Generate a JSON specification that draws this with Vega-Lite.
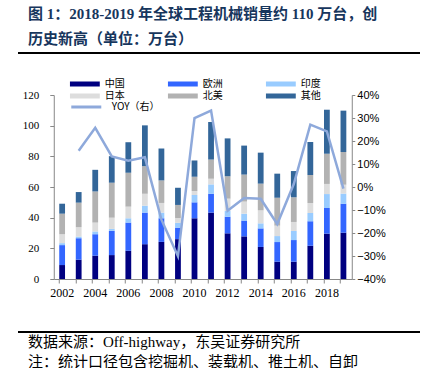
{
  "$schema": "https://vega.github.io/schema/vega-lite/v6.json",
  "padding": {"left": 17, "top": 7, "right": 5, "bottom": 0},
  "background": "white",
  "config": {"view": {"stroke": null}},
  "datasets": {
    "sales": [
      {"year": 2002, "中国": 9.1, "欧洲": 13.0, "印度": 1.3, "日本": 5.8, "北美": 13.4, "其他": 6.5},
      {"year": 2003, "中国": 12.6, "欧洲": 14.0, "印度": 1.1, "日本": 6.1, "北美": 16.0, "其他": 6.9},
      {"year": 2004, "中国": 15.2, "欧洲": 14.0, "印度": 1.8, "日本": 5.8, "北美": 20.3, "其他": 14.1},
      {"year": 2005, "中国": 15.6, "欧洲": 15.8, "印度": 1.3, "日本": 7.3, "北美": 22.8, "其他": 17.3},
      {"year": 2006, "中国": 18.4, "欧洲": 18.4, "印度": 2.8, "日本": 7.6, "北美": 22.1, "其他": 19.9},
      {"year": 2007, "中国": 22.7, "欧洲": 20.6, "印度": 4.5, "日本": 7.8, "北美": 18.0, "其他": 26.6},
      {"year": 2008, "中国": 24.2, "欧洲": 15.4, "印度": 3.7, "日本": 6.3, "北美": 14.7, "其他": 20.8},
      {"year": 2009, "中国": 26.0, "欧洲": 7.5, "印度": 3.1, "日本": 3.2, "北美": 8.5, "其他": 11.2},
      {"year": 2010, "中国": 39.6, "欧洲": 10.4, "印度": 4.8, "日本": 2.6, "北美": 9.3, "其他": 10.6},
      {"year": 2011, "中国": 43.3, "欧洲": 12.3, "印度": 6.1, "日本": 3.7, "北美": 12.5, "其他": 24.5},
      {"year": 2012, "中国": 29.8, "欧洲": 10.8, "印度": 3.8, "日本": 8.0, "北美": 14.6, "其他": 24.7},
      {"year": 2013, "中国": 27.8, "欧洲": 10.3, "印度": 4.5, "日本": 7.9, "北美": 17.6, "其他": 18.9},
      {"year": 2014, "中国": 20.9, "欧洲": 12.1, "印度": 3.3, "日本": 8.5, "北美": 17.4, "其他": 20.2},
      {"year": 2015, "中国": 11.3, "欧洲": 12.8, "印度": 3.9, "日本": 6.8, "北美": 18.2, "其他": 15.7},
      {"year": 2016, "中国": 11.3, "欧洲": 14.1, "印度": 5.9, "日本": 5.9, "北美": 16.1, "其他": 17.1},
      {"year": 2017, "中国": 21.7, "欧洲": 15.9, "印度": 5.4, "日本": 6.6, "北美": 18.2, "其他": 21.5},
      {"year": 2018, "中国": 29.6, "欧洲": 16.7, "印度": 9.1, "日本": 6.6, "北美": 19.7, "其他": 28.7},
      {"year": 2019, "中国": 30.2, "欧洲": 18.9, "印度": 6.6, "日本": 5.8, "北美": 21.3, "其他": 27.0}
    ],
    "yoy": [
      {"year": 2003, "yoy": 0.158},
      {"year": 2004, "yoy": 0.257},
      {"year": 2005, "yoy": 0.133},
      {"year": 2006, "yoy": 0.114},
      {"year": 2007, "yoy": 0.129},
      {"year": 2008, "yoy": -0.142},
      {"year": 2009, "yoy": -0.301},
      {"year": 2010, "yoy": 0.300},
      {"year": 2011, "yoy": 0.332},
      {"year": 2012, "yoy": -0.103},
      {"year": 2013, "yoy": -0.048},
      {"year": 2014, "yoy": -0.051},
      {"year": 2015, "yoy": -0.161},
      {"year": 2016, "yoy": 0.013},
      {"year": 2017, "yoy": 0.271},
      {"year": 2018, "yoy": 0.242},
      {"year": 2019, "yoy": -0.007}
    ],
    "regions": [
      {"region": "中国", "k": 1},
      {"region": "欧洲", "k": 2},
      {"region": "印度", "k": 3},
      {"region": "日本", "k": 4},
      {"region": "北美", "k": 5},
      {"region": "其他", "k": 6}
    ],
    "one": [{"v": 0}]
  },
  "spacing": 24,
  "center": true,
  "resolve": {"legend": {"color": "independent", "stroke": "independent"}},
  "vconcat": [
    {
      "width": 402,
      "height": 2,
      "data": {"name": "one"},
      "mark": {"type": "rule", "color": "#000000", "strokeWidth": 2},
      "encoding": {
        "x": {"datum": 0, "type": "quantitative", "scale": {"domain": [0, 1], "range": [0, 402]}, "axis": null},
        "x2": {"datum": 1},
        "y": {"datum": 0.5, "type": "quantitative", "scale": {"domain": [0, 1]}, "axis": null}
      },
      "title": {
        "text": ["图 1：2018-2019 年全球工程机械销量约 110 万台，创", "历史新高（单位：万台）"],
        "orient": "top",
        "anchor": "start",
        "frame": "group",
        "dx": 10,
        "offset": 5,
        "font": "Liberation Serif, Noto Sans CJK SC",
        "fontSize": 15,
        "fontWeight": "bold",
        "color": "#17365D",
        "lineHeight": 25
      }
    },
    {
      "width": 298,
      "height": 184,
      "layer": [
        {
          "data": {"name": "sales"},
          "transform": [
            {"fold": ["中国", "欧洲", "印度", "日本", "北美", "其他"], "as": ["region", "value"]},
            {"lookup": "region", "from": {"data": {"name": "regions"}, "key": "region", "fields": ["k"]}}
          ],
          "mark": {"type": "bar"},
          "encoding": {
            "x": {
              "field": "year",
              "type": "ordinal",
              "scale": {"paddingInner": 0.65, "paddingOuter": 0.33},
              "axis": {
                "title": null,
                "labelAngle": 0,
                "bandPosition": 0,
                "labelExpr": "datum.value % 2 == 0 ? datum.label : ''",
                "labelFont": "Liberation Serif",
                "labelFontSize": 12,
                "labelColor": "#000000",
                "labelPadding": 4,
                "tickSize": 4,
                "tickColor": "#888888",
                "domainColor": "#888888"
              }
            },
            "y": {
              "field": "value",
              "type": "quantitative",
              "stack": "zero",
              "scale": {"domain": [0, 120]},
              "axis": {
                "title": null,
                "grid": false,
                "values": [0, 20, 40, 60, 80, 100, 120],
                "labelFont": "Liberation Serif",
                "labelFontSize": 11,
                "labelColor": "#000000",
                "labelPadding": 11,
                "tickSize": 4,
                "tickColor": "#888888",
                "domainColor": "#888888"
              }
            },
            "color": {
              "field": "region",
              "type": "nominal",
              "scale": {
                "domain": ["中国", "欧洲", "印度", "日本", "北美", "其他"],
                "range": ["#000080", "#3366FF", "#99CCFF", "#DDDDDD", "#B2B2B2", "#336699"]
              },
              "legend": {
                "title": null,
                "orient": "none",
                "direction": "horizontal",
                "legendX": 16,
                "legendY": -17,
                "padding": 0,
                "columns": 3,
                "columnPadding": 43,
                "rowPadding": -1,
                "clipHeight": 12,
                "symbolType": "M-1,-0.16H1V0.16H-1Z",
                "symbolSize": 900,
                "symbolStrokeWidth": 0,
                "labelFont": "Noto Sans CJK SC",
                "labelFontSize": 10,
                "labelOffset": 5,
                "labelColor": "#000000"
              }
            },
            "order": {"field": "k", "type": "quantitative"}
          }
        },
        {
          "data": {"name": "yoy"},
          "mark": {"type": "line", "strokeWidth": 2.5},
          "encoding": {
            "x": {"field": "year", "type": "ordinal"},
            "y": {
              "field": "yoy",
              "type": "quantitative",
              "scale": {"domain": [-0.4, 0.4]},
              "axis": {
                "title": null,
                "orient": "right",
                "grid": false,
                "format": ".0%",
                "values": [-0.4, -0.3, -0.2, -0.1, 0, 0.1, 0.2, 0.3, 0.4],
                "labelFont": "Liberation Sans",
                "labelFontSize": 11,
                "labelColor": "#000000",
                "labelPadding": 2,
                "tickSize": 3,
                "tickColor": "#888888",
                "domainColor": "#888888"
              }
            },
            "stroke": {
              "datum": "YOY（右）",
              "type": "nominal",
              "scale": {"range": ["#8EA9DB"]},
              "legend": {
                "title": null,
                "orient": "none",
                "legendX": 16,
                "legendY": 6,
                "padding": 0,
                "clipHeight": 12,
                "symbolType": "stroke",
                "symbolSize": 900,
                "symbolStrokeWidth": 3,
                "labelFont": "Noto Sans CJK SC",
                "labelFontSize": 10,
                "labelOffset": 9,
                "labelColor": "#000000"
              }
            }
          }
        }
      ],
      "resolve": {"scale": {"y": "independent"}}
    },
    {
      "width": 402,
      "height": 12,
      "data": {"name": "one"},
      "mark": {"type": "rule", "color": "#000000", "strokeWidth": 2},
      "encoding": {
        "y": {"datum": 2, "type": "quantitative", "scale": {"domain": [0, 12]}, "axis": null}
      },
      "title": {
        "text": ["数据来源：Off-highway，东吴证券研究所", "注：统计口径包含挖掘机、装载机、推土机、自卸"],
        "orient": "bottom",
        "anchor": "start",
        "frame": "group",
        "dx": 10,
        "offset": 1,
        "font": "Liberation Serif, Noto Sans CJK SC",
        "fontSize": 15,
        "fontWeight": "normal",
        "color": "#000000",
        "lineHeight": 20
      }
    }
  ]
}
